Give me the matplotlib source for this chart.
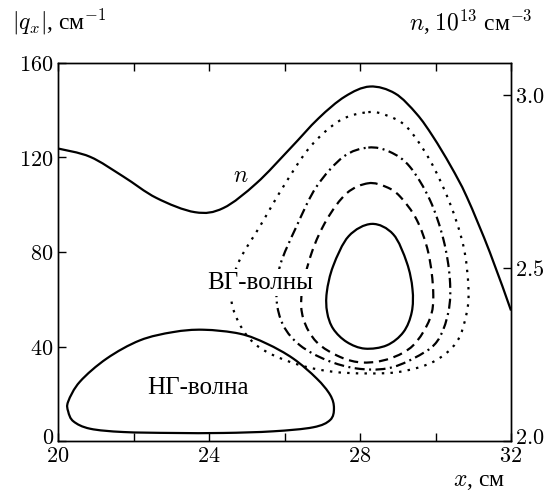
import numpy as np
import matplotlib
matplotlib.use("Agg")
import matplotlib.pyplot as plt
from matplotlib.path import Path
from matplotlib.patches import PathPatch
import matplotlib.transforms as mtransforms

plt.rcParams['mathtext.fontset'] = 'cm'
plt.rcParams['font.family'] = ['DejaVu Serif']

# n profile (right axis, 10^13 cm^-3)
n_x = [20.0, 20.85, 21.73, 22.61, 23.63, 24.38, 25.26, 26.15, 26.9, 27.6,
       28.26, 28.93, 29.5, 29.93, 30.4, 30.83, 31.44, 32.0]
n_val = [2.845, 2.821, 2.764, 2.702, 2.661, 2.673, 2.745, 2.845, 2.932, 2.995,
         3.024, 3.004, 2.945, 2.880, 2.795, 2.705, 2.545, 2.377]

# ВГ-волны contours (x, |q_x|)
vg1_x = [28.31, 28.88, 29.24, 29.39, 29.37, 29.15, 28.71, 28.13, 27.65, 27.29, 27.13, 27.12, 27.29, 27.7]
vg1_q = [91.9, 87.5, 75.5, 64.3, 54.5, 46.1, 40.5, 39.1, 41.9, 47.5, 54.5, 62.9, 74.1, 86.7]

vg2_x = [28.22, 28.7, 29.06, 29.5, 29.81, 29.94, 29.85, 29.41, 28.79, 28.09, 27.47, 26.85, 26.5, 26.46, 26.72, 27.12, 27.65]
vg2_q = [109.1, 107.5, 103.5, 93.7, 79.7, 62.9, 51.7, 40.5, 34.9, 33.2, 35.6, 41.9, 51.7, 62.9, 79.7, 93.7, 104.9]

vg3_x = [28.22, 28.79, 29.32, 29.85, 30.21, 30.38, 30.34, 30.03, 29.41, 28.71, 27.91, 27.12, 26.41, 25.97, 25.79, 25.88, 26.32, 26.85, 27.56]
vg3_q = [124.2, 122.4, 116.1, 102.1, 85.3, 68.5, 54.5, 41.9, 34.9, 30.7, 30.7, 34.2, 40.5, 48.9, 60.1, 74.1, 90.9, 107.7, 120.3]

vg4_x = [28.22, 28.71, 29.24, 29.85, 30.38, 30.74, 30.87, 30.83, 30.56, 29.94, 29.06, 28.18, 27.29, 26.41, 25.53, 25.0, 24.64, 24.6, 24.82, 25.35, 25.97, 26.68, 27.47]
vg4_q = [139.2, 137.8, 132.9, 118.9, 100.7, 82.5, 65.7, 54.5, 41.9, 33.5, 29.3, 28.6, 29.3, 32.1, 37.7, 44.7, 55.9, 65.7, 76.9, 90.9, 107.7, 124.5, 135.7]

# НГ-волна contour
ng_x = [23.85, 24.82, 25.53, 26.23, 26.85, 27.21, 27.31, 27.21, 26.76, 25.7, 24.38, 23.05, 21.73, 20.85, 20.41, 20.27, 20.27, 20.58, 21.29, 22.17, 23.05]
ng_q = [47.1, 45.4, 41.2, 34.9, 26.5, 19.5, 13.9, 8.9, 5.8, 4.1, 3.4, 3.4, 3.8, 5.2, 8.3, 12.5, 16.7, 25.1, 34.9, 42.6, 46.1]

x_ticks = [20, 24, 28, 32]
x_minor = [22, 26, 30]
q_ticks = [0, 40, 80, 120, 160]
n_ticks = [2.0, 2.5, 3.0]

fig = plt.figure(figsize=(5.52, 4.93), dpi=100)
ax = fig.add_axes([58/552, 1-441/493, (511-58)/552, (441-63)/493])
ax2 = ax.twinx()
ax.set_xlim(20, 32)
ax.set_ylim(0, 160)
ax2.set_ylim(2.0, 3.092)


def smooth_path(a, xs, ys, closed):
    """Bezier path through the read points (Catmull-Rom control points, display space)."""
    pts = a.transData.transform(np.column_stack([xs, ys]))
    n = len(pts)
    if closed:
        P = lambda i: pts[i % n]
        segs = n
    else:
        P = lambda i: pts[min(max(i, 0), n - 1)]
        segs = n - 1
    verts = [P(0)]
    codes = [Path.MOVETO]
    for i in range(segs):
        p0, p1, p2, p3 = P(i - 1), P(i), P(i + 1), P(i + 2)
        c1 = p1 + (p2 - p0) / 6.0
        c2 = p2 - (p3 - p1) / 6.0
        verts += [c1, c2, p2]
        codes += [Path.CURVE4] * 3
    return Path(np.array(verts), codes)


def draw(a, xs, ys, closed, **kw):
    path = smooth_path(a, xs, ys, closed)
    patch = PathPatch(path, facecolor='none', edgecolor='black', lw=1.6,
                      transform=mtransforms.IdentityTransform(), capstyle='butt',
                      joinstyle='round', **kw)
    a.add_patch(patch)


draw(ax, vg1_x, vg1_q, True)
draw(ax, vg2_x, vg2_q, True, linestyle=(0, (4.2, 2.6)))
draw(ax, vg3_x, vg3_q, True, linestyle=(0, (4.5, 2.0, 0.9, 2.0)))
draw(ax, vg4_x, vg4_q, True, linestyle=(0, (1.1, 2.8)))
draw(ax, ng_x, ng_q, True)
draw(ax2, n_x, n_val, False)

fs = 16
ax.set_xticks(x_ticks)
ax.set_xticklabels(['$%d$' % v for v in x_ticks], fontsize=fs)
ax.set_xticks(x_minor, minor=True)
ax.set_yticks(q_ticks)
ax.set_yticklabels(['$%d$' % v for v in q_ticks], fontsize=fs)
ax2.set_yticks(n_ticks)
ax2.set_yticklabels(['$%.1f$' % v for v in n_ticks], fontsize=fs)

ax.tick_params(axis='x', which='both', direction='in', top=True, length=6, width=1, pad=3)
ax.tick_params(axis='y', which='both', direction='in', length=6, width=1, pad=3)
ax2.tick_params(axis='y', direction='in', length=6, width=1, pad=3)
for a in (ax, ax2):
    for s in a.spines.values():
        s.set_linewidth(1.0)

# raise the bottom labels of the y axes a little, as in the reference
up = mtransforms.ScaledTranslation(0, 6/100, fig.dpi_scale_trans)
ax.get_yticklabels()[0].set_transform(ax.get_yticklabels()[0].get_transform() + up)
ax2.get_yticklabels()[0].set_transform(ax2.get_yticklabels()[0].get_transform() + up)

cyr = ['Liberation Serif', 'DejaVu Serif']
ax.text(25.35, 67.0, 'ВГ-волны', fontsize=18, ha='center', va='center', zorder=10,
        family=cyr, bbox=dict(facecolor='white', edgecolor='none', pad=2))
ax.text(23.7, 22.5, 'НГ-волна', fontsize=18, ha='center', va='center', family=cyr)
ax.text(24.85, 112.5, '$n$', fontsize=17, ha='center', va='center')

fig.text(12/552, 1-22/493, r'$|q_x|$, см$^{-1}$', fontsize=17, ha='left', va='center', family=cyr)
fig.text(533/552, 1-22/493, r'$n$, $10^{13}$ см$^{-3}$', fontsize=17, ha='right', va='center', family=cyr)
fig.text(505/552, 1-482/493, r'$x$, см', fontsize=17, ha='right', va='center', family=cyr)

fig.savefig('out.png', dpi=100)
